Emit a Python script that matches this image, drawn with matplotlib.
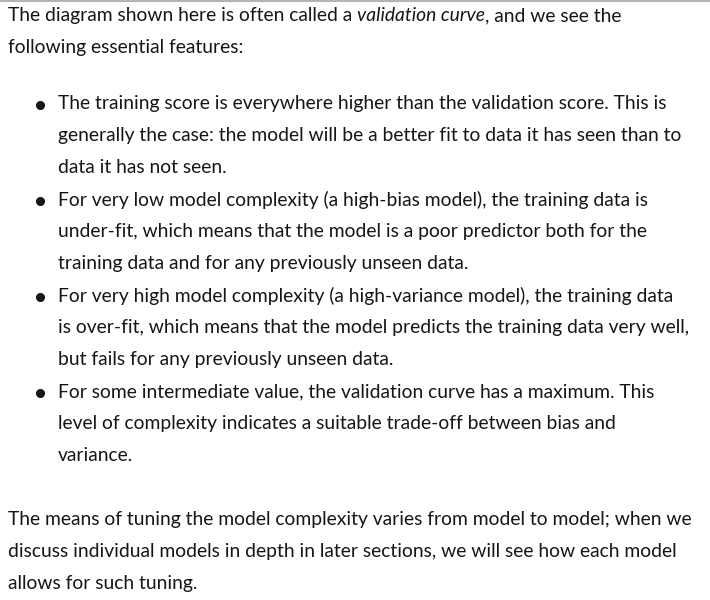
import matplotlib
matplotlib.use('Agg')
import matplotlib.pyplot as plt

W, H = 710, 600
FONT = 'Lato'
SIZE = 13.9
COLOR = '#161616'

# paragraph text, line by line as it wraps in the page
intro_before = 'The diagram shown here is often called a '
intro_italic = 'validation curve'
intro_after = ', and we see the'
intro_line2 = 'following essential features:'

bullets = [
    ['The training score is everywhere higher than the validation score. This is',
     'generally the case: the model will be a better fit to data it has seen than to',
     'data it has not seen.'],
    ['For very low model complexity (a high-bias model), the training data is',
     'under-fit, which means that the model is a poor predictor both for the',
     'training data and for any previously unseen data.'],
    ['For very high model complexity (a high-variance model), the training data',
     'is over-fit, which means that the model predicts the training data very well,',
     'but fails for any previously unseen data.'],
    ['For some intermediate value, the validation curve has a maximum. This',
     'level of complexity indicates a suitable trade-off between bias and',
     'variance.'],
]

closing = ['The means of tuning the model complexity varies from model to model; when we',
           'discuss individual models in depth in later sections, we will see how each model',
           'allows for such tuning.']

fig = plt.figure(figsize=(W / 100, H / 100), dpi=100)
ax = fig.add_axes([0, 0, 1, 1])
ax.set_xlim(0, W)
ax.set_ylim(H, 0)
ax.axis('off')

ax.axhline(1, color='#b4b4b4', lw=1.5)

LINE = 32
kw = dict(fontsize=SIZE, family=FONT, color=COLOR)

# first paragraph with the italic words
y = 15.5
t1 = ax.text(8, y, intro_before, va='center', ha='left', **kw)
t2 = ax.annotate(intro_italic, xy=(1, 0), xycoords=t1, va='bottom', ha='left',
                 style='italic', **kw)
ax.annotate(intro_after, xy=(1, 0), xycoords=t2, va='bottom', ha='left', **kw)
y += LINE
ax.text(8, y, intro_line2, va='center', ha='left', **kw)

# bullet list
y = 103.5
for item in bullets:
    ax.plot([40], [y + 1], 'o', color=COLOR, ms=5.5)
    for line in item:
        ax.text(58, y, line, va='center', ha='left', **kw)
        y += LINE

# closing paragraph
y = 519.5
for line in closing:
    ax.text(8, y, line, va='center', ha='left', **kw)
    y += LINE

fig.savefig('out.png', dpi=100, facecolor='white')
